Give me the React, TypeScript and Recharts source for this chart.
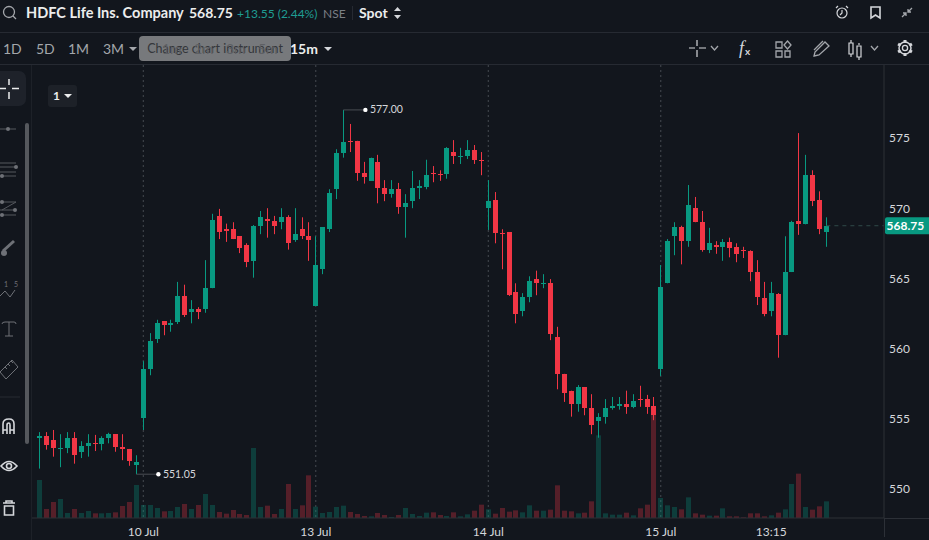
import React from "react";
import {
  ComposedChart,
  Bar,
  XAxis,
  YAxis,
  CartesianGrid,
  ReferenceLine,
  ReferenceDot,
} from "recharts";

const opens = [
  553.65, 553.75, 553.5, 552.85, 552.9, 553.65, 552.65, 553.05, 553.3, 553.2,
  553.65, 553.9, 553.0, 552.85, 551.7, 555.05, 558.55, 560.7, 561.95, 561.7,
  561.9, 563.75, 562.6, 562.8, 562.8, 564.3, 569.45, 568.5, 568.5, 568.0,
  567.4, 566.25, 568.75, 569.2, 569.1, 569.0, 569.35, 567.75, 568.5, 568.0,
  563.05, 565.65, 568.5, 571.35, 573.95, 574.8, 574.8, 572.5, 571.95, 573.3,
  571.45, 571.0, 571.35, 570.1, 570.5, 571.45, 571.5, 572.5, 572.45, 572.45,
  574.0, 573.65, 573.7, 574.15, 573.45, 570.0, 570.6, 568.25, 568.3, 564.05,
  562.7, 563.7, 564.95, 564.6, 564.65, 560.85, 558.2, 557.0, 556.05, 557.25,
  555.75, 554.85, 555.15, 555.75, 555.9, 556.05, 555.85, 556.4, 556.4, 555.9,
  558.55, 564.65, 568.0, 568.65, 567.65, 570.0, 569.0, 567.0, 567.4, 567.25,
  567.6, 567.25, 567.0, 566.95, 565.45, 563.6, 562.7, 563.9, 560.95, 565.45,
  569.1, 568.85, 572.35, 570.6, 568.3,
];

const closes = [
  553.75, 553.15, 552.9, 552.95, 553.65, 552.4, 553.05, 553.25, 553.2, 553.65,
  553.9, 553.0, 552.85, 552.0, 551.9, 558.55, 560.55, 561.8, 561.7, 561.8,
  563.75, 562.4, 562.8, 562.6, 564.3, 569.15, 568.3, 568.4, 567.8, 567.15,
  566.15, 568.75, 569.35, 569.1, 568.75, 569.35, 567.5, 568.15, 568.0, 567.75,
  565.95, 568.65, 571.1, 573.95, 574.7, 574.75, 572.5, 572.2, 573.6, 571.45,
  571.0, 571.35, 570.1, 570.35, 571.45, 571.6, 572.35, 572.45, 572.4, 574.3,
  573.7, 573.7, 574.15, 573.45, 573.4, 570.5, 568.25, 568.15, 563.8, 562.45,
  563.7, 564.8, 564.65, 564.7, 561.05, 558.2, 556.85, 556.05, 557.25, 555.75,
  554.55, 555.15, 555.75, 555.9, 556.05, 555.85, 556.25, 556.35, 555.85, 555.25,
  564.4, 567.65, 568.65, 567.65, 570.25, 569.0, 567.0, 567.5, 567.25, 567.6,
  567.15, 566.75, 566.95, 565.45, 563.65, 562.45, 563.95, 560.95, 565.45, 569.0,
  568.85, 572.35, 570.5, 568.5, 568.75,
];

const highs = [
  554.05, 554.05, 554.2, 553.9, 554.05, 554.05, 553.4, 553.9, 553.85, 553.75,
  554.0, 553.9, 553.9, 552.85, 552.4, 559.1, 561.1, 562.05, 561.95, 562.05,
  564.75, 564.55, 563.45, 562.95, 566.3, 569.6, 569.95, 568.9, 569.0, 568.0,
  567.5, 568.8, 569.8, 570.0, 569.45, 570.0, 569.5, 570.0, 569.35, 569.0,
  568.0, 568.65, 571.35, 574.2, 577.0, 576.0, 574.8, 573.3, 573.6, 573.8,
  572.0, 572.0, 571.8, 571.0, 572.65, 572.0, 573.45, 573.0, 572.7, 574.35,
  574.85, 574.3, 574.85, 574.5, 574.0, 572.0, 571.15, 568.5, 568.3, 564.65,
  563.95, 565.15, 565.55, 565.3, 564.95, 561.55, 558.2, 557.0, 557.4, 557.25,
  556.75, 555.4, 556.4, 556.55, 556.55, 557.0, 556.75, 557.35, 556.7, 556.55,
  565.95, 567.8, 569.0, 568.75, 571.65, 570.8, 569.8, 568.6, 567.65, 567.8,
  567.9, 567.5, 567.25, 567.0, 566.3, 564.75, 564.75, 563.95, 568.0, 569.1,
  575.35, 573.8, 572.7, 571.2, 569.35,
];

const lows = [
  551.45, 552.8, 552.3, 551.55, 552.55, 551.8, 552.2, 552.3, 552.7, 552.75,
  553.25, 552.65, 552.05, 551.65, 551.05, 554.2, 558.1, 560.4, 560.95, 561.2,
  561.75, 562.25, 561.8, 562.1, 562.55, 564.3, 567.8, 567.6, 567.8, 566.8,
  565.8, 565.05, 568.15, 567.9, 568.15, 568.5, 567.05, 567.6, 567.8, 566.25,
  563.05, 565.3, 568.3, 570.65, 573.6, 574.0, 571.95, 571.75, 571.95, 570.35,
  570.5, 570.75, 569.6, 567.9, 570.0, 570.65, 571.35, 571.85, 571.95, 572.1,
  573.15, 573.15, 573.5, 573.15, 572.35, 568.45, 567.5, 565.65, 563.75, 561.8,
  562.3, 563.3, 563.8, 564.3, 560.6, 557.1, 556.2, 555.15, 555.5, 555.25,
  553.9, 553.65, 554.65, 555.65, 555.65, 555.35, 555.75, 555.85, 555.35, 554.9,
  558.05, 564.65, 566.65, 566.0, 567.25, 569.0, 566.9, 566.8, 566.75, 566.25,
  566.5, 566.15, 566.45, 564.8, 563.1, 562.3, 562.3, 559.35, 560.95, 565.45,
  568.1, 568.85, 570.15, 568.15, 567.25,
];

// volume in thousands, read against the baseline
const volumes = [
  114, 27, 48, 57, 15, 27, 15, 21, 14, 14,
  15, 17, 36, 48, 99, 39, 39, 30, 20, 21,
  33, 42, 27, 39, 72, 39, 18, 13, 24, 12,
  9, 210, 33, 37, 12, 27, 102, 27, 38, 128,
  34, 15, 18, 33, 37, 18, 12, 6, 5, 15,
  9, 3, 9, 30, 12, 6, 16, 17, 9, 6,
  17, 5, 11, 22, 40, 26, 13, 30, 19, 23,
  17, 38, 22, 22, 25, 98, 22, 20, 14, 16,
  50, 248, 14, 10, 10, 16, 8, 29, 40, 336,
  60, 38, 33, 26, 62, 14, 10, 7, 7, 29,
  5, 5, 2, 14, 14, 5, 8, 16, 26, 102,
  133, 33, 25, 35, 50,
];

const xTicks = [15, 40, 65, 90, 106];
const xTickLabels = ["10 Jul", "13 Jul", "14 Jul", "15 Jul", "13:15"];
const dayBreaks = [15, 40, 65, 90];
const priceTicks = [550, 555, 560, 565, 568.75, 570, 575];
const lastPrice = 568.75;
const highMark = { idx: 44, price: 577.0 };
const lowMark = { idx: 14, price: 551.05 };

const rows = opens.map((open, idx) => ({
  idx,
  open,
  close: closes[idx],
  high: highs[idx],
  low: lows[idx],
  volume: volumes[idx],
}));

const UP = "#089981";
const DOWN = "#f23645";
const BG = "#12161d";
const LINE = "#262a32";
const ICON = "#a3a6ab";

function Candle(props: any) {
  const { x, y, width, height, payload } = props;
  const { open, close, high, low } = payload;
  const k = height / (high - low);
  const color = close >= open ? UP : DOWN;
  const top = Math.round(y + (high - Math.max(open, close)) * k);
  const bottom = Math.round(y + (high - Math.min(open, close)) * k);
  const cx = Math.round(x + width / 2 - 0.5);
  return (
    <g>
      <rect x={cx} y={y} width={1} height={height} fill={color} />
      <rect
        x={cx - 2}
        y={top}
        width={5}
        height={Math.max(bottom - top, 1)}
        fill={color}
      />
    </g>
  );
}

function VolumeBar(props: any) {
  const { x, y, width, height, payload } = props;
  const color = payload.close >= payload.open ? UP : DOWN;
  return (
    <rect
      x={Math.round(x)}
      y={y}
      width={width}
      height={height}
      fill={color}
      fillOpacity={0.3}
    />
  );
}

function PriceTick(props: any) {
  const { x, y, payload } = props;
  if (payload.value === lastPrice) {
    return (
      <g>
        <rect x={x - 7} y={y - 8.5} width={46} height={17} rx={2} fill={UP} />
        <text
          x={x - 5.5}
          y={y + 4.5}
          fontFamily="Lato"
          fontSize={12}
          fontWeight={700}
          fill="#ffffff"
        >
          {lastPrice.toFixed(2)}
        </text>
      </g>
    );
  }
  return (
    <text x={x - 3} y={y + 4.5} fontFamily="Lato" fontSize={12} fill="#d5d7db">
      {payload.value}
    </text>
  );
}

function Extreme(props: any) {
  const { cx, cy, label } = props;
  return (
    <g>
      <line x1={cx} x2={cx + 22} y1={cy} y2={cy} stroke="#4a4d53" />
      <circle cx={cx + 22} cy={cy} r={2.2} fill="#ffffff" />
      <text
        x={cx + 26.5}
        y={cy + 3.5}
        fontFamily="Lato"
        fontSize={10.5}
        fill="#d5d7db"
      >
        {label}
      </text>
    </g>
  );
}

function Txt(props: any) {
  const { x, y, size = 14, color = "#a3a6ab", weight = 400, children } = props;
  return (
    <div
      style={{
        position: "absolute",
        left: x,
        top: y,
        fontSize: size,
        lineHeight: "18px",
        color,
        fontWeight: weight,
        whiteSpace: "nowrap",
      }}
    >
      {children}
    </div>
  );
}

function Caret({ x, y, color = ICON }: any) {
  return (
    <svg style={{ position: "absolute", left: x, top: y }} width={9} height={5}>
      <path d="M0 0 L8 0 L4 4 Z" fill={color} />
    </svg>
  );
}

function Icons() {
  const s = { fill: "none", stroke: ICON, strokeWidth: 1.3 };
  const w = { fill: "none", stroke: "#d5d7db", strokeWidth: 1.6 };
  const gearTeeth = [0, 60, 120, 180, 240, 300];
  return (
    <svg
      width={929}
      height={540}
      style={{ position: "absolute", left: 0, top: 0, pointerEvents: "none" }}
    >
      {/* search */}
      <circle cx={9} cy={12} r={5.5} {...s} />
      <path d="M13 16 L16 19" {...s} />
      {/* spot arrows */}
      <path d="M394 11 L401 11 L397.5 7 Z M394 15 L401 15 L397.5 19 Z" fill="#d5d7db" />
      {/* alarm, bookmark, collapse */}
      <circle cx={842} cy={13} r={5} {...w} strokeWidth={1.2} />
      <path d="M842 10 L842 13 L840 15 M836 8 L838 6 M848 8 L846 6" {...w} strokeWidth={1.2} />
      <path d="M871 7 L880 7 L880 18 L875.5 15 L871 18 Z" {...w} />
      <path d="M902 17 L906 13 M903 13 L906 13 L906 16 M912 8 L908 12 M908 9 L908 12 L911 12" {...s} />
      {/* toolbar right */}
      <path d="M689 48 L695 48 M699 48 L706 48 M697 40 L697 46 M697 50 L697 57" {...w} strokeWidth={1.2} />
      <path d="M711 46 L714.5 50 L718 46 M871 46 L874.5 50 L878 46" {...s} />
      <text x={739} y={54} fontFamily="Liberation Serif" fontStyle="italic" fontSize={18} fill="#d5d7db">f</text>
      <text x={745} y={55} fontFamily="Lato" fontSize={10} fontWeight={700} fill="#d5d7db">x</text>
      <path d="M776 42 H782 V48 H776 Z M776 51 H782 V57 H776 Z M785 51 H790 V57 H785 Z M787.5 41 L791 45 L787.5 49 L784 45 Z" {...s} />
      <path d="M814 56 L819 55 L829 46 L825 42 L815 52 Z M814 50 L823 41" {...s} />
      <path d="M851 40 V43 M851 54 V57 M859 43 V45 M859 57 V60 M849 43 H853 V54 H849 Z M857 46 H861 V57 H857 Z" {...w} strokeWidth={1.2} />
      <circle cx={905} cy={48} r={2.6} {...w} strokeWidth={1.3} />
      <circle cx={905} cy={48} r={6} {...w} strokeWidth={1.5} />
      {gearTeeth.map((deg) => (
        <rect key={deg} x={903.5} y={40} width={3} height={3} fill="#d5d7db" transform={`rotate(${deg} 905 48)`} />
      ))}
      {/* sidebar */}
      <rect x={-8} y={71} width={34} height={35} rx={7} fill="#1e222a" />
      <path d="M0 88.5 L6 88.5 M12 88.5 L19 88.5 M9 79 L9 85 M9 92 L9 99" stroke="#eceded" strokeWidth={1.5} />
      <path d="M0 129 L16 129" stroke="#55585e" />
      <circle cx={8} cy={129} r={2} fill="#6e7177" />
      <path d="M0 163 L16 163 M0 167 L16 167 M0 172 L16 172 M0 176 L16 176" stroke="#55585e" />
      <circle cx={16} cy={167} r={2} fill="#6e7177" />
      <circle cx={2} cy={176} r={2} fill="#6e7177" />
      <path d="M0 202 L16 202 M0 210 L16 210 M0 215 L16 215 M2 210 L16 202" stroke="#55585e" />
      <circle cx={2} cy={202} r={2} fill="#6e7177" />
      <circle cx={15} cy={210} r={2} fill="#6e7177" />
      <circle cx={2} cy={215} r={2} fill="#6e7177" />
      <path d="M3 251 L14 241" stroke="#6e7177" strokeWidth={3} />
      <circle cx={4} cy={253} r={3} fill="#6e7177" />
      <path d="M0 296 L5 291 L10 297 L15 290" fill="none" stroke="#6e7177" />
      <text x={4} y={287} fontFamily="Lato" fontSize={7} fill="#6e7177">1</text>
      <text x={14} y={287} fontFamily="Lato" fontSize={7} fill="#6e7177">5</text>
      <path d="M2 324 Q2 322 5 322 L14 322 Q16 322 16 324 M9 322 L9 336 M5 336 L13 336" fill="none" stroke="#6e7177" />
      <path d="M0 372 L12 360 L18 367 L6 379 Z M5 367 L7 369 M8 364 L10 366 M11 361 L13 363" fill="none" stroke="#6e7177" />
      <path d="M0 397 L20 397" stroke={LINE} />
      <path d="M3 434 L3 424 Q3 419 9 419 Q14 419 14 424 L14 434 M3 430 H7 M10 430 H14 M7 434 L7 425 Q7 423 9 423 Q10 423 10 425 L10 434" {...w} />
      <path d="M1 466 Q9 457 17 466 Q9 475 1 466 Z" {...w} />
      <circle cx={9} cy={466} r={2.5} {...w} />
      <path d="M3 503 H15 M6 503 V501 H12 V503 M4.5 506 H13.5 V515 H4.5 Z" {...w} />
      {/* sidebar scrollbar */}
      <rect x={25} y={123} width={4} height={321} rx={2} fill="#55585d" />
    </svg>
  );
}

export default function App() {
  return (
    <div
      style={{
        position: "absolute",
        left: 0,
        top: 0,
        width: 929,
        height: 540,
        background: BG,
        overflow: "hidden",
        fontFamily: "Lato",
      }}
    >
      <div style={{ position: "absolute", left: 0, top: 32, width: 929, height: 1, background: LINE }} />
      <div style={{ position: "absolute", left: 0, top: 64, width: 929, height: 1, background: LINE }} />
      <div style={{ position: "absolute", left: 31, top: 65, width: 1, height: 475, background: "#1d2128" }} />
      <div style={{ position: "absolute", left: 884, top: 518, width: 1, height: 19, background: "#2c3037" }} />
      <div style={{ position: "absolute", left: 884, top: 518, width: 45, height: 1, background: "#2c3037" }} />

      <ComposedChart
        width={929}
        height={540}
        data={rows}
        margin={{ top: 65, right: 0, left: 32, bottom: 0 }}
        style={{ position: "absolute", left: 0, top: 0 }}
      >
        <XAxis
          xAxisId="vol"
          dataKey="idx"
          type="number"
          domain={[-1.13, 122.35]}
          allowDataOverflow
          hide
        />
        <XAxis
          xAxisId="price"
          dataKey="idx"
          type="number"
          domain={[-1.13, 122.35]}
          allowDataOverflow
          ticks={xTicks}
          interval={0}
          height={22}
          tickLine={false}
          axisLine={{ stroke: "#2c3037" }}
          tickMargin={3}
          tick={{ fontSize: 12, fontFamily: "Lato", fill: "#d5d7db" }}
          tickFormatter={(v: number) => xTickLabels[xTicks.indexOf(v)]}
        />
        <YAxis yAxisId="vol" domain={[0, 1359]} hide />
        <YAxis
          yAxisId="price"
          orientation="right"
          domain={[547.93, 580.2]}
          allowDataOverflow
          ticks={priceTicks}
          interval={0}
          width={45}
          tickLine={false}
          axisLine={{ stroke: "#2c3037" }}
          tick={<PriceTick />}
        />
        <CartesianGrid
          xAxisId="price"
          yAxisId="price"
          horizontal={false}
          verticalValues={dayBreaks}
          stroke="#464a51"
          strokeDasharray="2 3"
        />
        <Bar
          xAxisId="vol"
          yAxisId="vol"
          dataKey="volume"
          barSize={5}
          shape={<VolumeBar />}
          isAnimationActive={false}
        />
        <Bar
          xAxisId="price"
          yAxisId="price"
          dataKey={(d: any) => [d.low, d.high]}
          barSize={5}
          shape={<Candle />}
          isAnimationActive={false}
        />
        <ReferenceLine
          xAxisId="price"
          yAxisId="price"
          segment={[
            { x: rows.length - 1, y: lastPrice },
            { x: 122.35, y: lastPrice },
          ]}
          stroke="#2f4a48"
          strokeDasharray="4 4"
        />
        <ReferenceDot
          xAxisId="price"
          yAxisId="price"
          x={highMark.idx}
          y={highMark.price}
          shape={<Extreme label={highMark.price.toFixed(2)} />}
        />
        <ReferenceDot
          xAxisId="price"
          yAxisId="price"
          x={lowMark.idx}
          y={lowMark.price}
          shape={<Extreme label={lowMark.price.toFixed(2)} />}
        />
      </ComposedChart>

      <Txt x={26} y={4} size={14.5} color="#eceded" weight={700}>HDFC Life Ins. Company</Txt>
      <Txt x={189} y={4} size={14} color="#eceded" weight={700}>568.75</Txt>
      <Txt x={237} y={5} size={12} color="#1f9d93">+13.55 (2.44%)</Txt>
      <Txt x={323} y={5} size={12} color="#7c7f85">NSE</Txt>
      <div style={{ position: "absolute", left: 352, top: 6, width: 1, height: 14, background: LINE }} />
      <Txt x={359} y={4} size={14} color="#eceded" weight={700}>Spot</Txt>

      <Txt x={3} y={40}>1D</Txt>
      <Txt x={36} y={40}>5D</Txt>
      <Txt x={68} y={40}>1M</Txt>
      <Txt x={103} y={40}>3M</Txt>
      <Caret x={129} y={47} />
      <Txt x={290} y={40} color="#eceded" weight={700}>15m</Txt>
      <Caret x={324} y={47} color="#d5d7db" />
      <div
        style={{
          position: "absolute",
          left: 139,
          top: 36,
          width: 152,
          height: 25,
          borderRadius: 4,
          background: "#77797c",
          color: "#34363a",
          fontSize: 12.5,
          lineHeight: "25px",
          textAlign: "center",
          whiteSpace: "nowrap",
        }}
      >
        Change chart instrument
      </div>
      {/* interval buttons show through the tooltip */}
      <Txt x={162} y={40} color="#5e6064">1m</Txt>
      <Txt x={194} y={40} color="#5e6064">2m</Txt>
      <Txt x={226} y={40} color="#5e6064">3m</Txt>
      <Txt x={258} y={40} color="#5e6064">5m</Txt>

      <div style={{ position: "absolute", left: 48, top: 85, width: 29, height: 22, borderRadius: 3, background: "#1d2128" }} />
      <Txt x={53} y={87} size={12} color="#eceded" weight={700}>1</Txt>
      <Caret x={64} y={94} color="#eceded" />

      <Icons />
    </div>
  );
}
